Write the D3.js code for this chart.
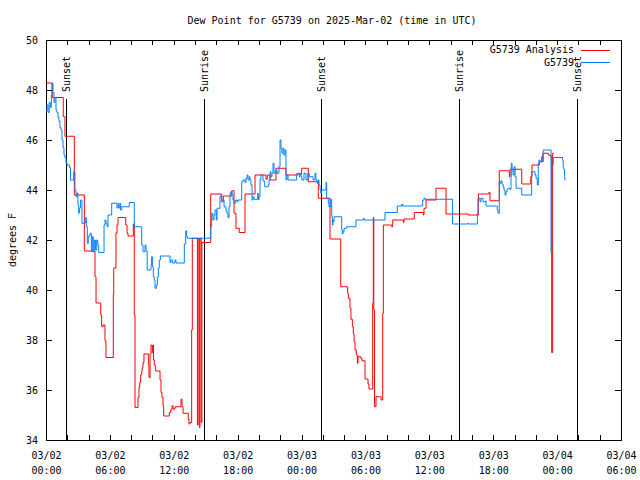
<!DOCTYPE html>
<html>
<head>
<meta charset="utf-8">
<script src="https://cdn.jsdelivr.net/npm/d3@7"></script>
<style>
  html, body { margin: 0; padding: 0; background: #fff; }
  svg { display: block; }
  text { font-family: "DejaVu Sans Mono", "Liberation Mono", monospace; font-size: 10px; fill: #000; }
</style>
</head>
<body>
<svg id="chart" width="640" height="480"></svg>
<script>
// ---- data (hours since 2025-03-02 00:00 UTC, degrees F) ----
const chartTitle = "Dew Point for G5739 on 2025-Mar-02 (time in UTC)";
const yLabel = "degrees F";
const seriesNames = ["G5739 Analysis", "G5739"];
const seriesColors = ["#ff0000", "#0080ff"];

const analysis = [
  [0,48.28],[0.59,47.7],[1.62,46.93],[1.78,46.15],[2.66,43.8],[3.6,41.56],[4.6,40.53],[4.7,39.48],
  [5.14,39.0],[5.23,38.53],[5.35,38.6],[5.54,37.97],[5.63,37.3],[6.32,39.8],[6.36,40.88],[6.57,42.28],
  [6.67,42.6],[6.76,42.9],[7.49,42.6],[7.61,42.28],[7.7,42.16],[8.2,42.64],[8.29,39.0],[8.36,35.3],
  [8.64,35.7],[8.73,36.1],[8.8,36.3],[8.89,36.6],[8.99,36.77],[9.04,36.9],[9.11,37.1],[9.2,37.44],
  [9.61,37.0],[9.67,36.5],[9.77,37.45],[9.86,37.8],[9.98,37.5],[10.05,37.8],[10.1,37.2],[10.17,37.0],
  [10.27,36.76],[10.71,36.4],[10.8,35.9],[10.89,35.7],[10.99,35.36],[11.05,34.96],[11.58,35.1],[11.71,35.2],
  [11.83,35.37],[11.93,35.24],[12.11,35.33],[12.68,35.63],[12.77,35.33],[12.87,35.07],[13.36,34.83],[13.43,34.64],
  [13.52,34.7],[13.68,38.4],[13.74,42.07],[14.22,34.6],[14.28,42.07],[14.4,34.5],[14.46,42.07],[14.58,34.7],
  [14.64,41.9],[15.47,43.84],[16.5,43.53],[16.65,43.76],[17.44,43.97],[17.66,43.07],[17.84,42.47],[18.15,42.3],
  [18.69,43.84],[19.63,44.6],[20.66,44.43],[20.78,44.6],[21.04,44.4],[21.6,44.87],[22.54,44.6],[23.48,44.64],
  [24.01,44.87],[24.63,44.33],[25.57,43.67],[26.67,42.04],[27.68,40.13],[28.33,39.87],[28.39,39.67],[28.55,39.27],
  [28.64,38.83],[28.77,38.53],[28.86,38.24],[28.93,37.93],[29.02,37.6],[29.14,37.4],[29.24,37.07],[29.3,37.33],
  [29.58,37.25],[29.68,37.17],[29.96,36.44],[30.24,36.24],[30.33,36.04],[30.68,39.47],[30.74,42.9],[30.78,39.2],
  [30.85,35.33],[30.99,35.73],[31.46,35.6],[31.62,39.07],[31.68,42.6],[32.47,42.53],[32.56,42.8],[33.56,42.7],
  [33.62,42.84],[34.59,43.1],[35.43,43.0],[35.5,43.27],[35.69,43.6],[36.63,44.07],[37.57,43.04],[39.66,43.0],
  [40.6,43.84],[41.6,43.9],[41.7,43.57],[42.57,44.77],[43.51,44.53],[43.58,44.83],[44.68,44.24],[45.52,44.53],
  [45.64,45.0],[46.33,45.13],[46.65,45.47],[47.17,45.4],[47.33,45.36],[47.49,37.5],[47.58,45.47],[47.68,45.47]
];

const observed = [
  [0,47.13],[0.1,47.4],[0.2,47.1],[0.3,47.5],[0.4,47.3],[0.5,47.8],[0.56,48.27],[0.66,47.9],[0.75,47.5],
  [0.85,47.7],[0.94,47.2],[1.03,47.1],[1.13,46.9],[1.22,46.75],[1.31,46.5],[1.41,46.4],[1.5,46.0],[1.6,45.7],
  [1.69,45.4],[1.78,45.3],[1.88,45.07],[2.0,45.0],[2.2,44.9],[2.3,44.4],[2.6,44.73],[2.72,44.0],[2.82,43.73],
  [2.91,43.88],[3.0,43.4],[3.07,43.07],[3.13,43.28],[3.25,43.6],[3.38,42.67],[3.69,42.9],[3.79,42.53],[3.88,41.87],
  [3.97,42.13],[4.07,42.2],[4.16,42.27],[4.26,41.53],[4.35,42.13],[4.44,41.53],[4.54,42.0],[4.64,41.6],[4.76,42.0],
  [4.86,41.8],[4.95,41.5],[5.45,42.6],[5.54,42.8],[5.63,42.67],[5.73,42.53],[5.82,43.0],[6.17,43.47],[6.67,43.28],
  [6.77,43.47],[6.85,43.28],[6.95,43.47],[7.01,43.2],[7.11,43.33],[7.82,43.5],[8.29,42.53],[8.99,41.8],[9.11,41.53],
  [9.3,41.8],[9.39,41.56],[9.5,40.8],[9.86,41.0],[9.92,41.33],[9.99,40.93],[10.08,40.53],[10.17,40.4],[10.24,40.07],
  [10.36,40.2],[10.46,40.53],[10.55,40.87],[10.64,41.2],[10.74,41.36],[11.65,41.1],[11.74,41.2],[11.9,41.08],
  [12.11,41.2],[12.21,41.08],[12.99,41.84],[13.12,42.36],[13.21,42.13],[13.3,42.07],[15.47,42.53],[15.56,43.07],
  [15.68,42.8],[15.78,43.0],[15.87,43.2],[15.99,42.8],[16.06,43.27],[16.34,43.76],[16.5,43.6],[16.72,43.33],
  [16.9,43.17],[17.0,43.07],[17.09,42.9],[17.19,43.33],[17.28,43.87],[17.37,43.93],[17.47,43.8],[17.56,43.6],
  [17.66,43.47],[17.82,43.6],[17.94,43.53],[18.03,43.6],[18.38,44.33],[18.5,44.4],[18.69,44.3],[18.78,44.47],
  [18.88,44.6],[18.97,44.4],[19.09,44.53],[19.16,44.4],[19.25,44.2],[19.35,43.6],[19.44,43.73],[19.53,43.63],
  [19.88,43.87],[19.94,43.6],[20.0,43.73],[20.1,44.43],[20.19,44.6],[20.38,44.36],[20.54,44.13],[20.88,44.2],
  [20.94,44.4],[21.04,44.73],[21.13,44.53],[21.22,44.67],[21.32,45.07],[21.41,44.67],[21.6,44.8],[21.69,44.67],
  [21.88,44.93],[21.98,46.0],[22.07,45.67],[22.16,45.47],[22.26,45.67],[22.35,45.4],[22.45,45.6],[22.54,44.4],
  [22.63,44.6],[22.73,44.4],[23.54,44.6],[23.67,44.67],[23.79,44.53],[23.85,44.67],[23.95,44.53],[24.04,44.4],
  [24.23,44.67],[24.42,44.4],[24.6,44.67],[24.73,44.53],[24.89,44.53],[25.08,44.4],[25.26,44.67],[25.35,44.4],
  [25.45,44.27],[25.54,44.4],[25.64,44.2],[25.73,44.0],[25.8,43.87],[25.89,44.0],[26.3,44.3],[26.36,43.67],
  [26.51,43.47],[26.58,43.33],[26.74,43.63],[26.83,42.93],[26.89,42.6],[26.95,42.8],[26.98,42.73],[27.05,42.93],
  [27.77,42.4],[27.83,42.24],[27.89,42.33],[27.99,42.47],[28.24,42.53],[29.11,42.8],[29.8,42.87],[29.87,42.8],
  [31.84,43.1],[32.99,43.36],[33.4,43.43],[33.5,43.36],[35.38,43.6],[35.5,43.67],[35.6,43.63],[38.18,42.64],
  [39.57,42.67],[39.63,42.64],[40.51,43.07],[40.57,43.63],[40.67,43.67],[40.76,43.53],[40.85,43.67],[41.04,43.53],
  [41.29,43.57],[41.32,43.36],[42.38,43.2],[42.45,43.07],[42.57,44.33],[42.64,44.27],[42.73,44.37],[42.83,44.24],
  [42.92,44.13],[43.01,44.0],[43.11,43.8],[43.2,43.93],[43.3,44.03],[43.39,44.07],[43.58,44.03],[43.67,44.53],
  [43.7,45.07],[43.77,44.8],[43.86,44.6],[43.96,44.93],[44.05,44.53],[44.15,44.07],[44.68,43.8],[45.61,44.73],
  [45.92,44.6],[46.02,44.47],[46.14,44.2],[46.23,45.07],[46.3,45.2],[46.39,45.13],[46.49,45.17],[46.55,45.33],
  [46.61,45.13],[46.7,45.6],[47.43,41.5],[47.49,45.0],[47.64,45.3],[48.52,45.17],[48.58,44.87],[48.64,44.83],
  [48.7,44.53],[48.73,44.4],[48.78,44.4]
];

const sunEvents = [
  { label: "Sunset",  hour: 1.85 },
  { label: "Sunrise", hour: 14.87 },
  { label: "Sunset",  hour: 25.85 },
  { label: "Sunrise", hour: 38.81 },
  { label: "Sunset",  hour: 49.89 }
];

const xTickHours = d3.range(0, 55, 2);
const xLabelHours = [0, 6, 12, 18, 24, 30, 36, 42, 48, 54];
const xLabelDates = ["03/02","03/02","03/02","03/02","03/03","03/03","03/03","03/03","03/04","03/04"];
const xLabelTimes = ["00:00","06:00","12:00","18:00","00:00","06:00","12:00","18:00","00:00","06:00"];
const yTicks = [34, 36, 38, 40, 42, 44, 46, 48, 50];

// ---- layout ----
const svg = d3.select("#chart");
const L = 46, R = 621, T = 40, B = 440;
const x = d3.scaleLinear().domain([0, 54]).range([L, R]);
const y = d3.scaleLinear().domain([34, 50]).range([B, T]);

svg.append("rect").attr("width", 640).attr("height", 480).attr("fill", "#fff");

function styleAxis(g) {
  g.selectAll("path.domain").attr("stroke", "#000").attr("stroke-width", 1).attr("shape-rendering", "crispEdges");
  g.selectAll(".tick line").attr("stroke", "#000").attr("shape-rendering", "crispEdges");
  g.attr("font-family", null).attr("font-size", null);
}

const gBottom = svg.append("g").attr("transform", `translate(0,${B})`)
  .call(d3.axisBottom(x).tickValues(xTickHours).tickSizeInner(-5).tickSizeOuter(0).tickFormat(""));
styleAxis(gBottom);
const gTop = svg.append("g").attr("transform", `translate(0,${T})`)
  .call(d3.axisTop(x).tickValues(xTickHours).tickSizeInner(-5).tickSizeOuter(0).tickFormat(""));
styleAxis(gTop);
const gLeft = svg.append("g").attr("transform", `translate(${L},0)`)
  .call(d3.axisLeft(y).tickValues(yTicks).tickSizeInner(-6).tickSizeOuter(0).tickPadding(8).tickFormat(d3.format("d")));
styleAxis(gLeft);
gLeft.selectAll(".tick text").attr("dy", "0.35em");
const gRight = svg.append("g").attr("transform", `translate(${R},0)`)
  .call(d3.axisRight(y).tickValues(yTicks).tickSizeInner(-6).tickSizeOuter(0).tickFormat(""));
styleAxis(gRight);

const gXLab = svg.append("g").attr("transform", `translate(0,${B})`)
  .call(d3.axisBottom(x).tickValues(xLabelHours).tickSize(0).tickPadding(0)
        .tickFormat((d, i) => xLabelDates[i]));
gXLab.select("path.domain").remove();
gXLab.attr("font-family", null).attr("font-size", null);
gXLab.selectAll(".tick text").each(function(d, i) {
  const t = d3.select(this);
  t.text(null).attr("dy", null).attr("y", 19);
  t.append("tspan").attr("x", 0).text(xLabelDates[i]);
  t.append("tspan").attr("x", 0).attr("dy", 15).text(xLabelTimes[i]);
});

const ev = svg.append("g");
sunEvents.forEach(e => {
  const px = Math.round(x(e.hour)) + 0.5;
  ev.append("line").attr("x1", px).attr("x2", px).attr("y1", 99).attr("y2", B)
    .attr("stroke", "#000").attr("stroke-width", 1);
  ev.append("text").attr("transform", `translate(${px + 3.5},92) rotate(-90)`)
    .attr("text-anchor", "start").text(e.label);
});

const line = d3.line().x(d => x(d[0])).y(d => y(d[1])).curve(d3.curveStepAfter);
svg.append("path").datum(analysis).attr("d", line)
  .attr("fill", "none").attr("stroke", seriesColors[0]).attr("stroke-width", 1);
svg.append("path").datum(observed).attr("d", line)
  .attr("fill", "none").attr("stroke", seriesColors[1]).attr("stroke-width", 1);

const leg = svg.append("g");
[0, 1].forEach(i => {
  const ly = 49.5 + i * 12.5;
  leg.append("text").attr("x", 574).attr("y", ly).attr("dy", "0.35em")
    .attr("text-anchor", "end").text(seriesNames[i]);
  leg.append("line").attr("x1", 581).attr("x2", 610).attr("y1", Math.round(ly) + 0.5).attr("y2", Math.round(ly) + 0.5)
    .attr("stroke", seriesColors[i]).attr("stroke-width", 1);
});

svg.append("text").attr("x", 332).attr("y", 20).attr("dy", "0.35em")
  .attr("text-anchor", "middle").text(chartTitle);
svg.append("text").attr("transform", "translate(12,240) rotate(-90)").attr("dy", "0.35em")
  .attr("text-anchor", "middle").text(yLabel);
</script>
</body>
</html>
